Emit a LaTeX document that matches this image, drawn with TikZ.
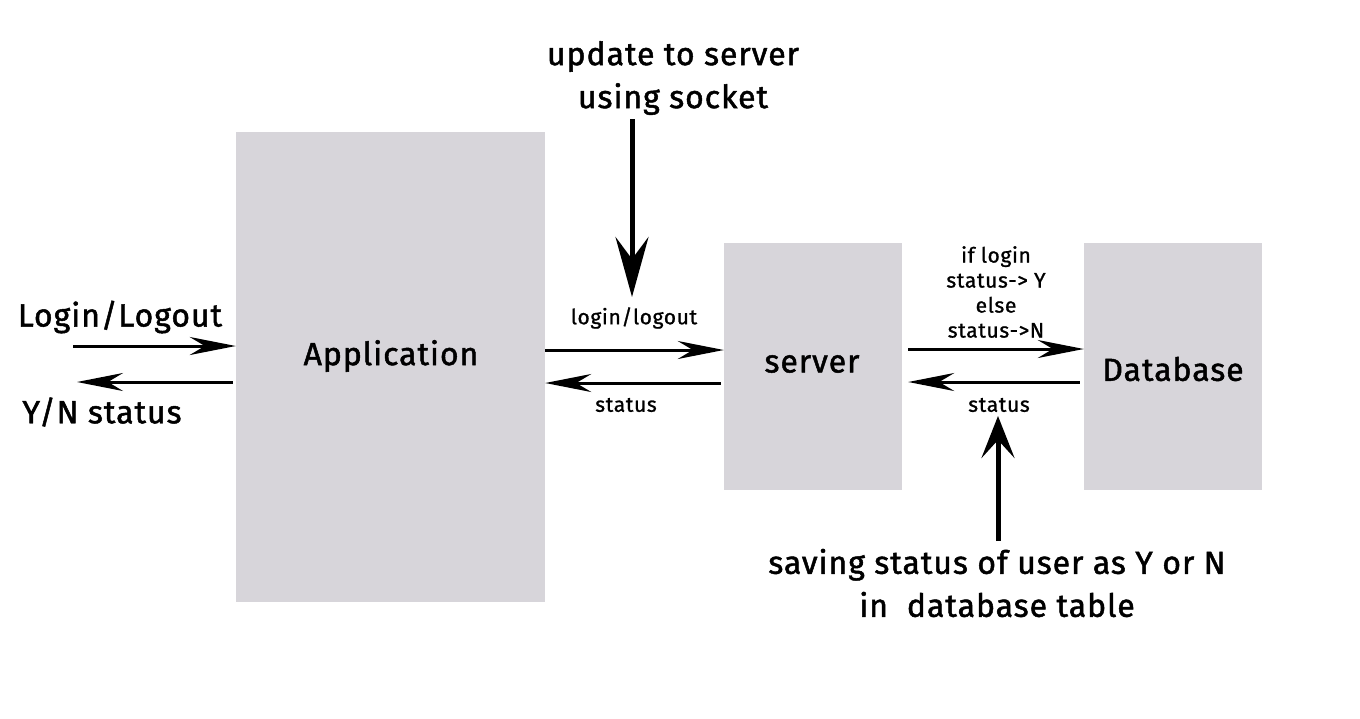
\documentclass[tikz,border=0pt]{standalone}
\usepackage{fontspec}
\setmainfont{Fira Sans}[FakeBold=1.5]
\usetikzlibrary{arrows.meta}
\definecolor{boxgray}{HTML}{D7D5DA}
\tikzset{
  block/.style={fill=boxgray, draw=none, inner sep=0pt},
  big/.style={font=\fontsize{32}{43}\selectfont\addfontfeature{LetterSpace=3,FakeBold=1.5}, align=center, inner sep=0pt},
  small/.style={font=\fontsize{21}{25}\selectfont\addfontfeature{LetterSpace=3,FakeBold=1}, align=center, inner sep=0pt},
  harrow/.style={line width=3pt, -{Stealth[length=46pt, width=18pt, inset=15pt]}},
  downarrow/.style={line width=5pt, -{Stealth[length=60pt, width=33pt, inset=22pt]}},
  uparrow/.style={line width=5pt, -{Stealth[length=42pt, width=33pt, inset=18pt]}},
}
\begin{document}
\begin{tikzpicture}[x=1pt,y=-1pt]
\useasboundingbox[fill=white] (0,0) rectangle (1360,718);
% blocks
\node[block, minimum width=309pt, minimum height=470pt] (app) at (390.5,367) {};
\node[block, minimum width=178pt, minimum height=247pt] (srv) at (813,366.5) {};
\node[block, minimum width=178pt, minimum height=247pt] (db) at (1173,366.5) {};
\node[big] (appt) at (391,356) {Application};
\node[big] (srvt) at (812,364) {server};
\node[big] (dbt) at (1173,369) {Database};
% external texts
\node[big] (login) at (120,317) {Login/Logout};
\node[big] (yn) at (102,412) {Y/N status};
\node[big] (upd) at (673,78) {update to server\\using socket};
\node[big] (save) at (997,583) {saving status of user as Y or N\\in\ \ database table};
% small labels
\node[small] (ll) at (634,318) {login/logout};
\node[small] (st1) at (626,405) {status};
\node[small] (cond) at (996,292) {if login\\status-> Y\\else\\status->N};
\node[small] (st2) at (999,405) {status};
% coordinates
\coordinate (l0) at (73,346);
\coordinate (y1) at (77,382);
\coordinate (u0) at (632,119);
\coordinate (u1) at (632,297);
\coordinate (s0) at (998,541);
\coordinate (s1) at (998,416);
% arrows
\draw[harrow] (l0) -- (app.west |- l0);
\draw[harrow] (app.west |- y1) ++(-3,0) -- (y1);
\draw[harrow] (app.east |- 0,350) -- (srv.west |- 0,350);
\draw[harrow] ([xshift=-3pt]srv.west |- 0,383) -- (app.east |- 0,383);
\draw[harrow] ([xshift=6pt]srv.east |- 0,349) -- (db.west |- 0,349);
\draw[harrow] ([xshift=-4pt]db.west |- 0,382) -- ([xshift=6pt]srv.east |- 0,382);
\draw[downarrow] (u0) -- (u1);
\draw[uparrow] (s0) -- (s1);
\end{tikzpicture}
\end{document}
